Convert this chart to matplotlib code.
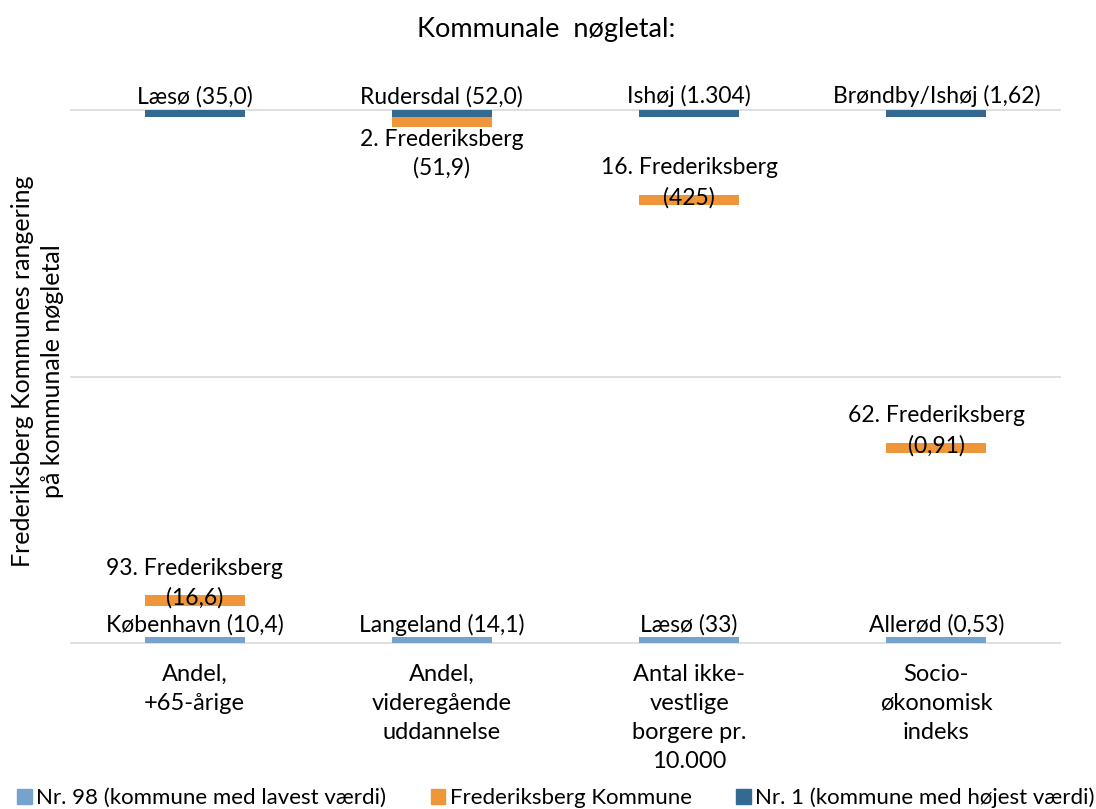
import numpy as np
import matplotlib
matplotlib.use('Agg')
from matplotlib import pyplot as plt
from matplotlib.patches import Patch

# kategorier på x-aksen
categories = ['Andel,\n+65-årige', 'Andel,\nvideregående\nuddannelse',
              'Antal ikke-\nvestlige\nborgere pr.\n10.000', 'Socio-\nøkonomisk\nindeks']

# placering på rangaksen (1 = øverst, 98 = nederst)
nr98_pos = [97.95, 97.95, 97.95, 97.95]
fred_pos = [90.7, 2.6, 17.0, 62.6]
nr1_pos = [1.1, 1.1, 1.1, 1.1]

# etiketter
nr98_labels = ['København (10,4)', 'Langeland (14,1)', 'Læsø (33)', 'Allerød (0,53)']
nr1_labels = ['Læsø (35,0)', 'Rudersdal (52,0)', 'Ishøj (1.304)', 'Brøndby/Ishøj (1,62)']
fred_rank = [93, 2, 16, 62]
fred_values = ['16,6', '51,9', '425', '0,91']

legend_labels = ['Nr. 98 (kommune med lavest værdi)', 'Frederiksberg Kommune',
                 'Nr. 1 (kommune med højest værdi)']

LIGHT = '#75A3CE'
ORANGE = '#F0963A'
DARK = '#336A92'
GRID = '#D9D9D9'
FS = 16.5

plt.rcParams['font.family'] = ['Lato', 'DejaVu Sans']

fig = plt.figure(figsize=(10.96, 8.09), dpi=100)
ax = fig.add_axes([71 / 1096, 1 - 643 / 809, (1060 - 71) / 1096, (643 - 110) / 809])

x = np.arange(len(categories))
w = 0.405

# gitterlinjer
for g in [0.5, 49.5, 98.5]:
    ax.axhline(g, color=GRID, lw=1.2, zorder=1, clip_on=False)

ax.bar(x, 1.1, bottom=np.array(nr98_pos) - 0.55, width=w, color=LIGHT, zorder=3)
ax.bar(x, 1.9, bottom=np.array(fred_pos) - 0.95, width=w, color=ORANGE, zorder=3)
ax.bar(x, 1.29, bottom=np.array(nr1_pos) - 0.645, width=w, color=DARK, zorder=4)

def label(xi, y, txt, dy):
    ax.annotate(txt, (xi, y), xytext=(0, dy), textcoords='offset points',
                ha='center', va='baseline', fontsize=FS, color='black', zorder=5)

for i in range(len(categories)):
    label(x[i], nr1_pos[i], nr1_labels[i], 7.2)
    label(x[i], nr98_pos[i], nr98_labels[i], 5.8)
    name = '%d. Frederiksberg' % fred_rank[i]
    val = '(%s)' % fred_values[i]
    if fred_pos[i] < 10:
        # under søjlen når den ligger oven i nr. 1
        label(x[i], fred_pos[i], name, -17.7)
        label(x[i], fred_pos[i], val, -38.6)
    else:
        label(x[i], fred_pos[i], name, 18.7)
        label(x[i], fred_pos[i], val, -3.2)

ax.set_xlim(-0.5, 3.5)
ax.set_ylim(98.5, 0.5)
ax.set_yticks([])
ax.set_xticks(x)
ax.set_xticklabels(categories, fontsize=17, linespacing=1.47)
ax.tick_params(axis='x', length=0, pad=15)
for s in ax.spines.values():
    s.set_visible(False)

fig.text(546 / 1096, 1 - 37 / 809, 'Kommunale  nøgletal:', fontsize=19.5,
         ha='center', va='baseline')
fig.text(37.5 / 1096, 1 - 371 / 809, 'Frederiksberg Kommunes rangering\npå kommunale nøgletal',
         rotation=90, ha='center', va='center', fontsize=18, linespacing=1.34,
         multialignment='center')

handles = [Patch(color=c) for c in [LIGHT, ORANGE, DARK]]
fig.legend(handles, legend_labels, loc='center', bbox_to_anchor=(556 / 1096, 1 - 798 / 809),
           ncol=3, frameon=False, fontsize=16, handlelength=0.65, handleheight=0.65,
           handletextpad=0.2, columnspacing=2.0, borderpad=0, borderaxespad=0)

fig.savefig('out.png', dpi=100)
